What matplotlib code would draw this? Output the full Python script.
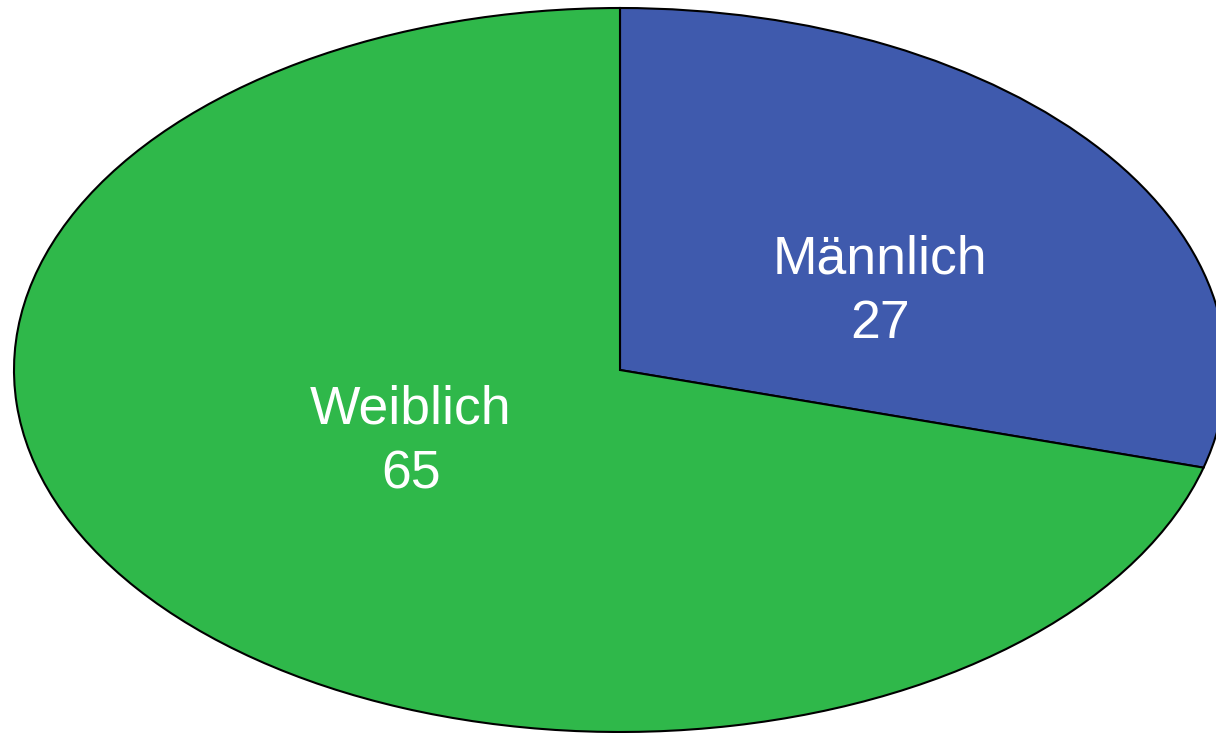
import matplotlib
matplotlib.use("Agg")
import matplotlib.pyplot as plt

categories = ["Männlich", "Weiblich"]
values = [27, 65]
colors = ["#3F5AAD", "#2FB84A"]

fig = plt.figure(figsize=(12.16, 7.33), dpi=100)
ax = fig.add_axes([0, 0, 1, 1])
wedges, _ = ax.pie(values, colors=colors, startangle=90, counterclock=False,
                   wedgeprops=dict(edgecolor="black", linewidth=1.5))
ax.set_aspect("auto")
cx, rx = 620, 606
cy, ry = 370, 362
ax.set_xlim(-cx / rx, (1216 - cx) / rx)
ax.set_ylim(-(733 - cy) / ry, cy / ry)
ax.axis("off")

label_pos = [((880 - cx) / rx, (cy - 292) / ry), ((411 - cx) / rx, (cy - 442) / ry)]
for cat, val, (x, y) in zip(categories, values, label_pos):
    ax.text(x, y, f"{cat}\n{val}", ha="center", va="center", color="white",
            fontsize=38.5, family=["Liberation Sans", "DejaVu Sans"], linespacing=1.38)

fig.savefig("out.png", dpi=100)
